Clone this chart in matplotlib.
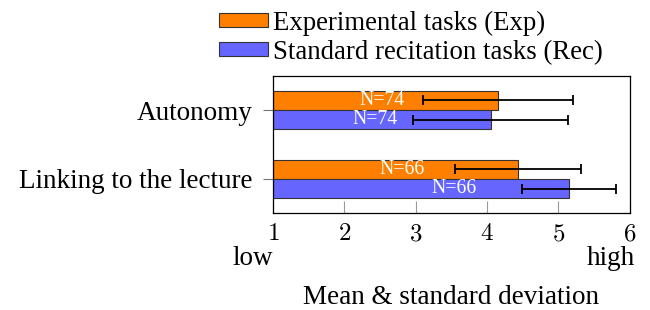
import numpy as np
import matplotlib
matplotlib.use('Agg')
import matplotlib.pyplot as plt
from matplotlib.patches import Patch

plt.rcParams['font.family'] = ['Liberation Serif', 'DejaVu Serif']
plt.rcParams['mathtext.fontset'] = 'cm'

# data
categories = ['Linking to the lecture', 'Autonomy']
exp_mean = [4.43, 4.15]
exp_sd = [0.88, 1.05]
rec_mean = [5.15, 4.05]
rec_sd = [0.66, 1.09]
exp_n = [66, 74]
rec_n = [66, 74]
xticks = [1, 2, 3, 4, 5, 6]

c_exp = '#FF8000'
c_rec = '#6666FF'

fig = plt.figure(figsize=(6.5, 3.1), dpi=100)
ax = fig.add_axes([0.42, 0.312, 0.549, 0.444])

y = np.arange(len(categories))
h = 0.28

ax.barh(y + h / 2, np.array(exp_mean) - 1, left=1, height=h, color=c_exp,
        edgecolor='#333333', linewidth=0.8, zorder=2)
ax.barh(y - h / 2, np.array(rec_mean) - 1, left=1, height=h, color=c_rec,
        edgecolor='#333333', linewidth=0.8, zorder=2)
ax.errorbar(exp_mean, y + h / 2, xerr=exp_sd, fmt='none', ecolor='black',
            elinewidth=1.3, capsize=3.6, capthick=1.3, zorder=3)
ax.errorbar(rec_mean, y - h / 2, xerr=rec_sd, fmt='none', ecolor='black',
            elinewidth=1.3, capsize=3.6, capthick=1.3, zorder=3)

# N labels inside the bars
for yi, m, n in zip(y + h / 2, exp_mean, exp_n):
    ax.text(m - 1.62, yi, f'N={n}', color='white', fontsize=14.2,
            ha='center', va='center', zorder=4)
for yi, m, n in zip(y - h / 2, rec_mean, rec_n):
    ax.text(m - 1.62, yi, f'N={n}', color='white', fontsize=14.2,
            ha='center', va='center', zorder=4)

ax.set_xlim(1, 6)
ax.set_ylim(-0.5, 1.5)
ax.set_xticks(xticks)
ax.set_xticklabels([f'${t}$' for t in xticks], fontsize=18)
ax.set_yticks(y)
ax.set_yticklabels(categories, fontsize=19.5)
ax.tick_params(axis='x', direction='in', length=8.5, width=0.8, color='#999999', pad=7)
ax.tick_params(axis='y', direction='out', length=7, width=0.8, color='#777777', pad=8)
for s in ax.spines.values():
    s.set_linewidth(0.9)

ax.text(1.0, -0.235, 'low', transform=ax.get_xaxis_transform(), fontsize=19.5,
        ha='right', va='top')
ax.text(6.07, -0.235, 'high', transform=ax.get_xaxis_transform(), fontsize=19.5,
        ha='right', va='top')
ax.set_xlabel('Mean & standard deviation', fontsize=19.5, labelpad=29)

handles = [Patch(facecolor=c_exp, edgecolor='#333333', linewidth=0.8),
           Patch(facecolor=c_rec, edgecolor='#333333', linewidth=0.8)]
fig.legend(handles, ['Experimental tasks (Exp)', 'Standard recitation tasks (Rec)'],
           loc='upper left', bbox_to_anchor=(0.321, 1.0), frameon=False,
           fontsize=19.3, handlelength=1.8, handleheight=0.42, handletextpad=0.2,
           labelspacing=0.15, borderaxespad=0)

fig.savefig('out.png', dpi=100)
